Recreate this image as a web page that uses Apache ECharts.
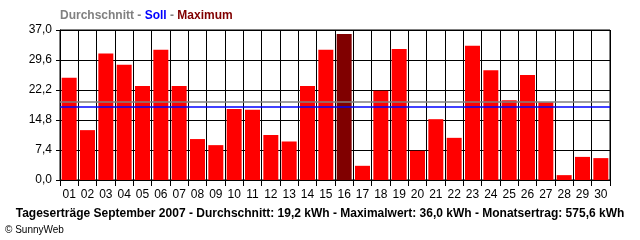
<!DOCTYPE html>
<html><head><meta charset="utf-8">
<script src="https://cdn.jsdelivr.net/npm/echarts@6/dist/echarts.min.js"></script>
<style>html,body{margin:0;padding:0;background:#fff}#c{width:640px;height:240px}</style>
</head><body><div id="c"></div>
<script>
const days = ['01','02','03','04','05','06','07','08','09','10','11','12','13','14','15','16','17','18','19','20','21','22','23','24','25','26','27','28','29','30'];
const yields = [25.2,12.3,31.2,28.4,23.2,32.1,23.2,10.1,8.6,17.5,17.3,11.1,9.5,23.2,32.1,36.0,3.5,22.0,32.3,7.2,15.0,10.4,33.1,27.1,19.7,25.9,19.2,1.2,5.7,5.4];
const average = 19.2;
const target = 18.0;
const maxIndex = 15;
const yTicks = [0, 7.4, 14.8, 22.2, 29.6, 37.0];
const bottomTitle = 'Tageserträge September 2007 - Durchschnitt: 19,2 kWh - Maximalwert: 36,0 kWh - Monatsertrag: 575,6 kWh';

const chart = echarts.init(document.getElementById('c'), null, {renderer:'canvas'});
const font = 'Liberation Sans, Arial, sans-serif';
const rs = (c) => ({color:c,fontWeight:'bold',fontSize:12,fontFamily:font});
chart.setOption({
  animation: false,
  backgroundColor: '#fff',
  title: [
    { text: '{a|Durchschnitt} {a|-} {b|Soll} {a|-} {c|Maximum}', left: 60, top: 10, padding: 0,
      textStyle: { fontFamily: font, fontSize: 12, fontWeight: 'bold',
        rich: { a: rs('#808080'), b: rs('#0000ff'), c: rs('#800000') } } },
    { text: bottomTitle, left: 'center', top: 208, padding: 0,
      textStyle: { fontFamily: font, fontSize: 12, fontWeight: 'bold', color: '#000' } },
    { text: '© SunnyWeb', left: 5, top: 225, padding: 0,
      textStyle: { fontFamily: font, fontSize: 10, fontWeight: 'normal', color: '#000' } }
  ],
  grid: { left: 60, right: 30, top: 30, bottom: 60, show: true, borderColor: '#000', borderWidth: 1 },
  xAxis: {
    type: 'category', data: days, boundaryGap: true,
    axisLine: { lineStyle: { color: '#000', width: 1 } },
    axisTick: { show: true, length: 6, lineStyle: { color: '#000', width: 1 } },
    splitLine: { show: true, lineStyle: { color: '#000', width: 1 } },
    axisLabel: { color: '#000', fontFamily: font, fontSize: 12, margin: 9 }
  },
  yAxis: {
    type: 'value', min: 0, max: 37, interval: 7.4,
    axisLine: { show: true, lineStyle: { color: '#000', width: 1 } },
    axisTick: { show: true, length: 4, lineStyle: { color: '#000' } },
    splitLine: { show: true, lineStyle: { color: '#000', width: 1 } },
    axisLabel: { color: '#000', fontFamily: font, fontSize: 12, margin: 8,
      formatter: v => v.toFixed(1).replace('.', ',') }
  },
  series: [{
    type: 'bar', data: yields.map((v,i) => i === maxIndex ? {value:v, itemStyle:{color:'#800000'}} : v),
    barWidth: 15, itemStyle: { color: '#ff0000' },
    markLine: { silent: true, symbol: 'none', label: { show: false }, z: 10,
      data: [
        { yAxis: average, lineStyle: { color: '#808080', width: 1.5, type: 'solid' } },
        { yAxis: target, lineStyle: { color: '#0000ff', width: 1.5, type: 'solid' } }
      ] }
  }]
});
</script></body></html>
